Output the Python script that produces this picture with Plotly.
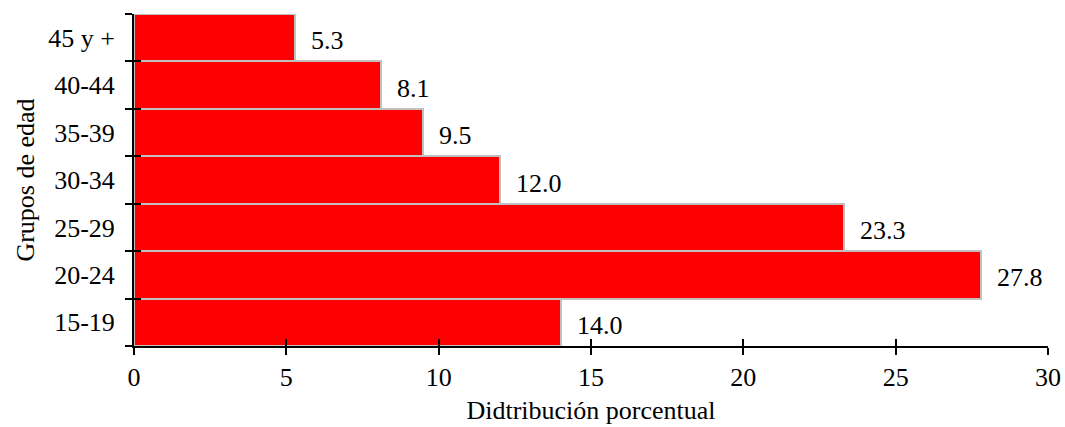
import plotly.graph_objects as go

# Distribución porcentual por grupos de edad
grupos = ["15-19", "20-24", "25-29", "30-34", "35-39", "40-44", "45 y +"]
porcentaje = [14.0, 27.8, 23.3, 12.0, 9.5, 8.1, 5.3]
x_ticks = [0, 5, 10, 15, 20, 25, 30]

FONT = "Liberation Serif"
SIZE = 26

fig = go.Figure()
fig.add_trace(go.Bar(
    y=grupos,
    x=porcentaje,
    orientation="h",
    marker=dict(color="#ff0000", line=dict(color="#c0c0c0", width=2)),
    showlegend=False,
))

# Value labels placed just past the end of each bar
for g, v in zip(grupos, porcentaje):
    fig.add_annotation(
        x=v, y=g, text=f"{v:.1f}", xanchor="left", yanchor="middle",
        xshift=14, yshift=-3, showarrow=False,
        font=dict(family=FONT, size=SIZE, color="black"),
    )

fig.update_layout(
    width=1065, height=427,
    margin=dict(l=134, r=17, t=14, b=81, autoexpand=False),
    paper_bgcolor="white", plot_bgcolor="white",
    bargap=0,
    font=dict(family=FONT, size=SIZE, color="black"),
    xaxis=dict(
        range=[0, 30], tickvals=x_ticks, showgrid=False, zeroline=False,
        showline=True, linecolor="black", linewidth=2, automargin=False,
        ticks="outside", ticklen=7, tickwidth=2, tickcolor="black",
        ticklabelstandoff=0,
        title=dict(text="Didtribución porcentual", standoff=10,
                   font=dict(family=FONT, size=SIZE)),
        tickfont=dict(family=FONT, size=SIZE),
    ),
    xaxis2=dict(
        range=[0, 30], tickvals=x_ticks, overlaying="x", side="bottom",
        showgrid=False, zeroline=False, showticklabels=False,
        ticks="inside", ticklen=7, tickwidth=2, tickcolor="black",
        anchor="y", automargin=False,
    ),
    yaxis=dict(
        type="category", categoryorder="array", categoryarray=grupos,
        range=[-0.5, 6.5], showgrid=False, zeroline=False,
        showline=True, linecolor="black", linewidth=2, automargin=False,
        ticks="outside", tickson="boundaries", ticklen=7, tickwidth=2,
        tickcolor="black", ticklabelstandoff=12,
        title=dict(text="Grupos de edad", standoff=6,
                   font=dict(family=FONT, size=SIZE)),
        tickfont=dict(family=FONT, size=SIZE),
    ),
    yaxis2=dict(
        range=[-0.5, 6.5], tickvals=[i - 0.5 for i in range(len(grupos) + 1)],
        overlaying="y", side="left", anchor="x", automargin=False,
        showgrid=False, zeroline=False, showticklabels=False,
        ticks="inside", ticklen=7, tickwidth=2, tickcolor="black",
    ),
)

# Invisible trace so the overlay axes are drawn
fig.add_trace(go.Scatter(x=[None], y=[None], xaxis="x2", yaxis="y2",
                         showlegend=False, hoverinfo="skip"))

fig.write_html("out.html")
